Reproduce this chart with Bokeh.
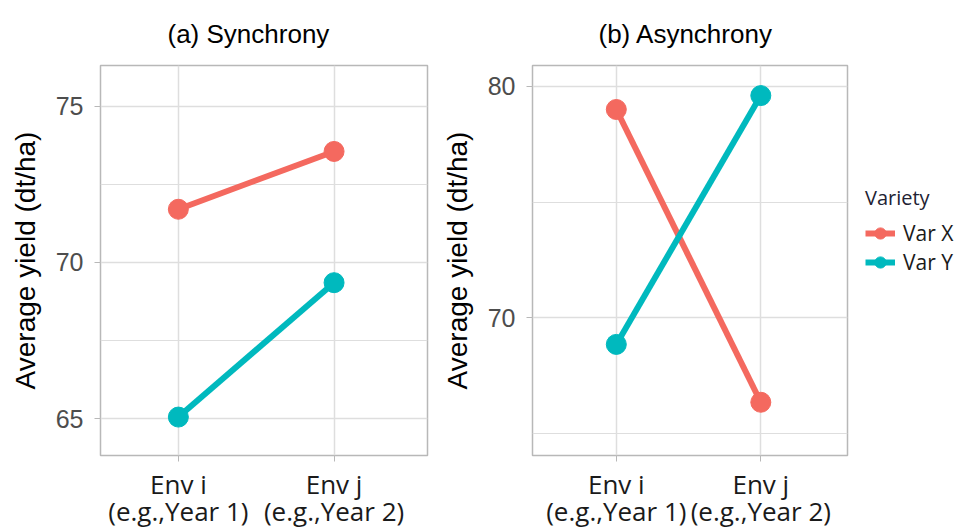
from bokeh.plotting import figure
from bokeh.models import (Range1d, FixedTicker, Legend, LegendItem, Title)
from bokeh.layouts import row
from bokeh.embed import file_html
from bokeh.resources import INLINE

# ---- data ----
env_pos = [1, 2]
env_labels = ["Env i\n(e.g.,Year 1)", "Env j\n(e.g.,Year 2)"]

sync_var_x = [71.7, 73.55]
sync_var_y = [65.05, 69.35]
async_var_x = [79.0, 66.35]
async_var_y = [68.85, 79.6]

series_names = ["Var X", "Var Y"]
colors = ["#F4695F", "#00B9BE"]

sync_ticks = [65, 70, 75]
sync_minor = [67.5, 72.5]
async_ticks = [70, 80]
async_minor = [65, 75]

GRID = "#DEDEDE"
BORDER = "#B8B8B8"
TICKLAB = "#4D4D4D"
H = 531


def panel(title, title_offset, width, xr, yr, ticks, minor, series, left_border, right_border):
    p = figure(output_backend="svg", toolbar_location=None,
               width=width, height=H,
               x_range=Range1d(*xr), y_range=Range1d(*yr),
               min_border_left=left_border, min_border_right=right_border,
               min_border_top=64, min_border_bottom=H - 64 - 392)
    p.title = Title(text=title, align="left", text_font="Liberation Sans",
                    text_font_size="26px", text_font_style="normal",
                    text_color="#000000", standoff=33, offset=title_offset)
    p.background_fill_color = "white"
    p.border_fill_color = "white"
    p.outline_line_color = BORDER
    p.outline_line_width = 1.5

    p.xaxis.ticker = FixedTicker(ticks=env_pos)
    p.xaxis.major_label_overrides = {x: lab for x, lab in zip(env_pos, env_labels)}
    p.xaxis.major_label_text_font = "Open Sans"
    p.xaxis.major_label_text_font_size = "26px"
    p.xaxis.major_label_text_color = "#1a1a1a"
    p.xaxis.major_label_text_line_height = 0.76
    p.xaxis.major_label_standoff = 4
    p.xaxis.axis_line_color = None
    p.xaxis.major_tick_line_color = BORDER
    p.xaxis.major_tick_in = 0
    p.xaxis.major_tick_out = 6
    p.xaxis.minor_tick_line_color = None

    p.yaxis.ticker = FixedTicker(ticks=ticks, minor_ticks=minor)
    p.yaxis.axis_line_color = None
    p.yaxis.major_tick_line_color = BORDER
    p.yaxis.major_tick_in = 0
    p.yaxis.major_tick_out = 6
    p.yaxis.minor_tick_line_color = None
    p.yaxis.major_label_text_font = "Liberation Sans"
    p.yaxis.major_label_text_font_size = "25px"
    p.yaxis.major_label_text_color = TICKLAB
    p.yaxis.major_label_standoff = 11
    p.yaxis.axis_label = "Average yield (dt/ha)"
    p.yaxis.axis_label_text_font = "Liberation Sans"
    p.yaxis.axis_label_text_font_size = "28px"
    p.yaxis.axis_label_text_font_style = "normal"
    p.yaxis.axis_label_text_color = "#000000"
    p.yaxis.axis_label_standoff = 12

    p.xgrid.grid_line_color = GRID
    p.xgrid.grid_line_width = 1.5
    p.ygrid.grid_line_color = GRID
    p.ygrid.grid_line_width = 1.5
    p.ygrid.minor_grid_line_color = GRID
    p.ygrid.minor_grid_line_width = 1.2

    for vals, col in zip(series, colors):
        p.line(env_pos, vals, line_color=col, line_width=6)
        p.scatter(env_pos, vals, size=20, fill_color=col, line_color=col)
    return p


p1 = panel("(a) Synchrony", 67, 438, (0.5, 2.6), (63.82, 76.3),
           sync_ticks, sync_minor, [sync_var_x, sync_var_y], 100, 11)

p2 = panel("(b) Asynchrony", 66, 419, (0.42, 2.6), (64.05, 80.9),
           async_ticks, async_minor, [async_var_x, async_var_y], 91, 10)

# legend-only figure: the series are drawn outside its visible range,
# so only the legend keys show
p3 = figure(output_backend="svg", toolbar_location=None, width=102, height=H,
            x_range=Range1d(100, 101), y_range=Range1d(0, 1),
            min_border_left=0, min_border_right=0, min_border_top=0, min_border_bottom=0)
p3.axis.visible = False
p3.grid.visible = False
p3.outline_line_color = None
items = []
for name, vals, col in zip(series_names, [async_var_x, async_var_y], colors):
    ln = p3.line(env_pos, vals, line_color=col, line_width=6)
    sc = p3.scatter(env_pos, vals, size=20, fill_color=col, line_color=col)
    items.append(LegendItem(label=name, renderers=[ln, sc]))

legend = Legend(items=items, title="Variety", location=(8, 179))
legend.title_text_font = "Open Sans"
legend.title_text_font_size = "20px"
legend.title_text_font_style = "normal"
legend.title_text_color = "#222233"
legend.title_standoff = 8
legend.label_text_font = "Open Sans"
legend.label_text_font_size = "21px"
legend.label_text_color = "#1a1a1a"
legend.label_standoff = 8
legend.glyph_width = 30
legend.glyph_height = 28
legend.spacing = 1
legend.padding = 4
legend.margin = 0
legend.border_line_color = None
legend.background_fill_alpha = 0
p3.add_layout(legend)

layout = row(p1, p2, p3)
open("out.html", "w").write(file_html(layout, INLINE))
